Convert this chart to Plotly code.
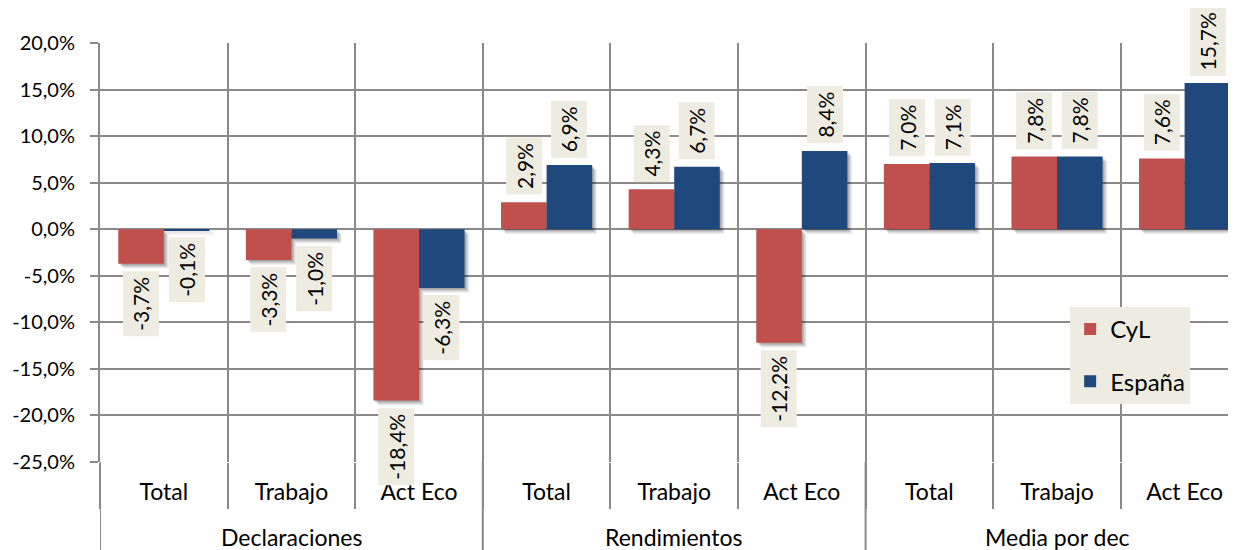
import plotly.graph_objects as go

groups = ["Declaraciones", "Rendimientos", "Media por dec"]
subcats = ["Total", "Trabajo", "Act Eco"]
categories = [(g, s) for g in groups for s in subcats]

cyl = [-3.7, -3.3, -18.4, 2.9, 4.3, -12.2, 7.0, 7.8, 7.6]
espana = [-0.1, -1.0, -6.3, 6.9, 6.7, 8.4, 7.1, 7.8, 15.7]

ytick_vals = [20, 15, 10, 5, 0, -5, -10, -15, -20, -25]
ytick_text = ["20,0%", "15,0%", "10,0%", "5,0%", "0,0%", "-5,0%",
              "-10,0%", "-15,0%", "-20,0%", "-25,0%"]

RED = "#C0504D"
BLUE = "#1F497D"
LABEL_BG = "#EEECE1"
GRID = "#898989"
FONT = "Lato"
FS = 23

n = len(categories)
xpos = list(range(n))
bw = 0.357  # bar width in category units
px_x = 1 / 127.6   # one pixel in x units
px_y = 5 / 46.5    # one pixel in y units

fig = go.Figure()

# soft drop shadows (layered)
for k, alpha in [(1, 0.10), (2, 0.10), (3, 0.09), (4, 0.07), (5, 0.05)]:
    for vals, off in [(cyl, -bw), (espana, 0.0)]:
        fig.add_trace(go.Bar(
            x=xpos, y=vals, base=[-k * px_y] * n,
            offset=off + k * px_x, width=bw,
            marker=dict(color=f"rgba(0,0,0,{alpha})", line=dict(width=0)),
            showlegend=False, hoverinfo="skip"))

fig.add_trace(go.Bar(x=xpos, y=cyl, name="CyL", offset=-bw, width=bw,
                     marker=dict(color=RED, line=dict(width=0)),
                     legendgroup="a"))
fig.add_trace(go.Bar(x=xpos, y=espana, name="España", offset=0.0, width=bw,
                     marker=dict(color=BLUE, line=dict(width=0)),
                     legendgroup="b"))

def fmt(v):
    return f"{v:.1f}%".replace(".", ",")

annotations = []
for vals, dx in [(cyl, -bw / 2), (espana, bw / 2)]:
    for i, v in enumerate(vals):
        annotations.append(dict(
            x=i + dx, y=v, xref="x", yref="y",
            text=fmt(v), textangle=-90, showarrow=False,
            font=dict(family=FONT, size=21, color="#000"),
            bgcolor=LABEL_BG, borderpad=5,
            xanchor="center",
            yanchor="bottom" if v >= 0 else "top",
            yshift=7 if v >= 0 else -7))

# group labels
for gi, g in enumerate(groups):
    annotations.append(dict(
        x=gi * 3 + 1, y=-0.179, xref="x", yref="paper",
        text=g, showarrow=False, yanchor="middle",
        font=dict(family=FONT, size=FS, color="#000")))

shapes = []
# group boundary lines extending to the bottom
for gi in range(len(groups) + 1):
    shapes.append(dict(type="line", xref="x", yref="paper",
                       x0=gi * 3 - 0.5, x1=gi * 3 - 0.5, y0=-0.215, y1=0,
                       line=dict(color=GRID, width=2), layer="below"))

# the page body adds an 8px margin; compensate so the plot area lands
# at the same window position as the reference
fig.update_layout(
    width=1228, height=542, autosize=False,
    margin=dict(l=92, r=0, t=35, b=88),
    paper_bgcolor="white", plot_bgcolor="white",
    barmode="overlay",
    font=dict(family=FONT, size=FS, color="#000"),
    annotations=annotations, shapes=shapes,
    showlegend=True,
    legend=dict(x=0.854, y=0.37, xanchor="left", yanchor="top",
                bgcolor=LABEL_BG, borderwidth=0,
                font=dict(family=FONT, size=24, color="#000"),
                tracegroupgap=18, itemwidth=30),
    xaxis=dict(range=[-0.5, -0.5 + 1136 / 127.6], automargin=False,
               tickmode="array", tickvals=xpos,
               ticktext=[c[1] for c in categories],
               showgrid=False, zeroline=False, showline=False,
               ticks="", ticklabelstandoff=14,
               tickfont=dict(family=FONT, size=FS, color="#000"),
               minor=dict(tickmode="array",
                          tickvals=[i - 0.5 for i in range(n + 1)],
                          showgrid=True, gridcolor=GRID, gridwidth=2,
                          ticks="outside", ticklen=46, tickwidth=2,
                          tickcolor=GRID)),
    yaxis=dict(range=[-25, 20], automargin=False,
               tickmode="array", tickvals=ytick_vals,
               ticktext=ytick_text, showgrid=True, gridcolor=GRID,
               gridwidth=2, zeroline=False, showline=True, linecolor=GRID,
               linewidth=2, ticks="outside", ticklen=8, tickwidth=2,
               tickcolor=GRID, ticklabelstandoff=11,
               tickfont=dict(family=FONT, size=20, color="#000")),
)

fig.write_html("out.html")
